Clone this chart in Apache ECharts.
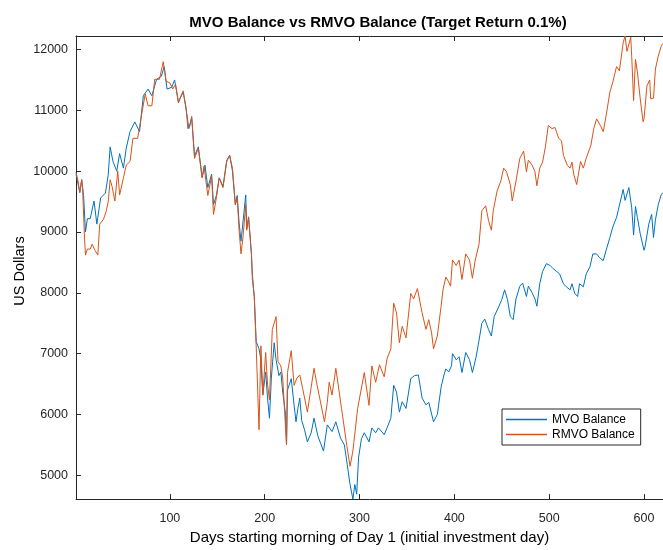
<!DOCTYPE html>
<html><head><meta charset="utf-8">
<script src="https://cdn.jsdelivr.net/npm/echarts@6/dist/echarts.min.js"></script>
<style>html,body{margin:0;padding:0;background:#fff}#c{width:663px;height:550px}</style>
</head><body><div id="c"></div>
<script>
const titleText = 'MVO Balance vs RMVO Balance (Target Return 0.1%)';
const xLabel = 'Days starting morning of Day 1 (initial investment day)';
const yLabel = 'US Dollars';
const seriesNames = ['MVO Balance', 'RMVO Balance'];
const xTicks = [100, 200, 300, 400, 500, 600];
const yTicks = [5000, 6000, 7000, 8000, 9000, 10000, 11000, 12000];

const mvoDays = [1,3,5,7,9,11,13,16,20,23,27,32,35,37,40,44,47,51,54,58,63,68,72,77,81,86,91,94,97,102,105,109,114,117,120,123,126,130,134,137,140,144,146,149,152,156,160,163,166,169,171,173,175,178,180,181,183,186,187,189,191,194,196,198,201,203,205,207,210,212,215,217,219,222,223,224,228,231,233,235,237,239,242,245,249,252,256,258,262,266,268,271,275,280,284,287,290,293,295,297,299,302,305,310,313,317,320,326,329,333,336,339,342,345,349,354,358,362,366,370,373,378,382,386,389,391,394,397,398,402,405,408,412,416,419,423,425,429,432,436,439,442,447,450,453,456,459,462,465,469,472,476,478,482,485,487,490,493,497,501,504,508,511,515,518,522,524,527,530,532,536,539,543,546,550,553,557,560,564,567,571,573,578,580,584,587,589,591,593,596,600,601,605,608,610,612,615,618,620];
const mvoValues = [9950,9800,9650,9860,9600,9000,9220,9220,9510,9130,9560,9640,9940,10400,10160,10000,10290,10050,10380,10650,10810,10650,11240,11350,11240,11510,11560,11720,11350,11380,11500,11140,11300,11030,10700,10880,10250,10400,9900,10100,9730,9950,9450,9600,9890,9750,10180,10260,10000,9450,9600,9150,8850,9300,9610,9050,9250,8640,8300,7940,7200,7080,6900,6320,6700,6270,5940,6600,7180,6900,6640,6700,6370,6000,5500,6400,6590,6150,5880,6100,6270,5900,5750,5550,5700,5940,5650,5620,5400,5830,5830,5720,5880,5610,5500,5180,4850,4610,4850,4690,5300,5600,5700,5550,5780,5700,5780,5670,5780,5940,6480,6370,6040,6210,6100,6590,6640,6650,6270,6160,6200,5880,6000,6450,6650,6750,6700,6800,7000,6900,6950,6690,7020,6900,6690,6950,7130,7500,7570,7400,7290,7610,7780,7890,8050,7890,7610,7560,7900,8110,8160,7940,8110,8000,7900,7780,8150,8350,8480,8450,8400,8350,8310,8150,8100,8050,8150,7990,7940,8150,8100,8310,8430,8640,8640,8580,8530,8700,8910,9080,9240,9270,9700,9520,9730,9400,8950,9420,9240,8970,8700,8750,9130,9290,8910,9200,9450,9610,9650];

const rmvoDays = [1,3,5,7,8,10,11,13,16,18,21,24,26,30,33,35,37,39,42,45,47,51,54,58,61,66,70,74,77,81,84,89,93,96,100,103,106,109,112,114,117,119,121,123,126,130,134,136,140,144,146,149,152,156,160,163,166,169,171,173,175,177,180,181,183,186,187,189,191,192,194,196,198,201,203,205,208,212,214,217,219,223,224,228,231,234,237,240,245,249,252,255,258,263,266,268,271,275,281,286,290,293,294,298,305,310,313,317,321,326,329,333,336,339,342,345,349,354,357,361,363,366,370,373,376,378,382,386,388,391,394,396,398,402,405,408,412,416,419,422,426,429,433,436,439,441,445,449,452,455,459,461,465,469,473,476,478,482,485,487,490,493,496,499,503,506,510,513,515,519,522,524,526,529,533,536,539,544,547,550,554,557,560,564,567,571,574,578,580,582,586,587,589,591,593,596,599,600,603,606,607,610,612,615,618,620];
const rmvoValues = [9980,9850,9650,9860,9700,8900,8620,8720,8720,8800,8700,8620,9130,9210,9350,9500,9860,9750,9510,10000,9610,9890,10100,10160,10540,10540,10910,11270,11075,11075,11510,11510,11800,11480,11450,11350,11430,11120,11250,11320,11050,10700,10750,10900,10210,10380,9890,10080,9600,9920,9290,9560,9890,9730,10160,10260,10050,9450,9560,9030,8640,8900,9450,9030,9240,8640,8220,7940,7130,7100,5750,7130,6320,7020,6500,6240,7400,7610,6870,6800,6600,5500,6690,7050,6480,6600,6650,6430,6040,6450,6760,6500,6270,5880,6200,6530,6320,6760,6100,5550,5150,5400,5540,6100,6690,6150,6800,6530,6820,6620,6920,7080,7830,7670,7180,7450,7260,7990,7900,8070,8090,7670,7400,7560,7340,7080,7290,7780,8050,8260,8180,8110,8540,8450,8540,8220,8640,8540,8240,8540,8800,9350,9430,9190,9030,9350,9670,9840,10050,9990,9780,9510,9840,10210,10330,9990,10180,10100,9990,9760,10050,10150,10400,10750,10700,10720,10540,10500,10260,10100,10050,10150,9940,9780,10160,10050,10210,10430,10700,10860,10750,10650,10910,11300,11460,11720,11650,12110,12222,11970,12200,11890,11160,11840,11630,11190,10810,10860,11400,11500,11190,11200,11680,11890,12050,12100];

const zip = (a, b) => a.map((d, i) => [d, b[i]]);
const axisColor = '#262626';
const font = '"Liberation Sans", Arial, Helvetica, sans-serif';

const chart = echarts.init(document.getElementById('c'), null, {renderer: 'canvas'});
chart.setOption({
  animation: false,
  backgroundColor: '#fff',
  title: {
    text: titleText, left: 373, top: 10, textAlign: 'center',
    textStyle: {fontFamily: font, fontSize: 15, fontWeight: 'bold', color: '#000'}
  },
  graphic: [{
    type: 'text', x: 20, y: 271, rotation: Math.PI / 2,
    style: {text: yLabel, fontFamily: font, fontSize: 14.5, fill: '#000', align: 'center', verticalAlign: 'middle'}
  }],
  grid: {left: 76, right: -2, top: 36, bottom: 45, containLabel: false},
  legend: {
    orient: 'vertical', left: 502, top: 409,
    data: seriesNames,
    icon: 'rect', itemWidth: 41, itemHeight: 1.5, itemGap: 2, itemTextGap: 5,
    padding: [4, 6, 4, 4],
    borderColor: axisColor, borderWidth: 1, borderRadius: 0, backgroundColor: '#fff',
    textStyle: {fontFamily: font, fontSize: 12, color: '#000', lineHeight: 13}
  },
  xAxis: [{
    type: 'value', min: 1, max: 620, position: 'bottom',
    name: xLabel, nameLocation: 'middle', nameGap: 30,
    nameTextStyle: {fontFamily: font, fontSize: 15, color: '#000'},
    axisLine: {show: true, onZero: false, lineStyle: {color: axisColor, width: 1}},
    axisTick: {show: true, inside: true, length: 5, customValues: xTicks, lineStyle: {color: axisColor}},
    axisLabel: {customValues: xTicks, fontFamily: font, fontSize: 12.5, color: '#262626', margin: 13},
    splitLine: {show: false}
  }, {
    type: 'value', min: 1, max: 620, position: 'top',
    axisLine: {show: true, onZero: false, lineStyle: {color: axisColor, width: 1}},
    axisTick: {show: true, inside: true, length: 5, customValues: xTicks, lineStyle: {color: axisColor}},
    axisLabel: {show: false}, splitLine: {show: false}
  }],
  yAxis: [{
    type: 'value', min: 4610, max: 12222, position: 'left',
    axisLine: {show: true, onZero: false, lineStyle: {color: axisColor, width: 1}},
    axisTick: {show: true, inside: true, length: 5, customValues: yTicks, lineStyle: {color: axisColor}},
    axisLabel: {customValues: yTicks, formatter: v => String(v), fontFamily: font, fontSize: 12.5, color: '#262626', margin: 8},
    splitLine: {show: false}
  }],
  series: [{
    name: seriesNames[0], type: 'line', data: zip(mvoDays, mvoValues),
    showSymbol: false, symbol: 'none', lineStyle: {color: '#0072BD', width: 1}, itemStyle: {color: '#0072BD'}
  }, {
    name: seriesNames[1], type: 'line', data: zip(rmvoDays, rmvoValues),
    showSymbol: false, symbol: 'none', lineStyle: {color: '#D95319', width: 1}, itemStyle: {color: '#D95319'}
  }]
});
</script></body></html>
